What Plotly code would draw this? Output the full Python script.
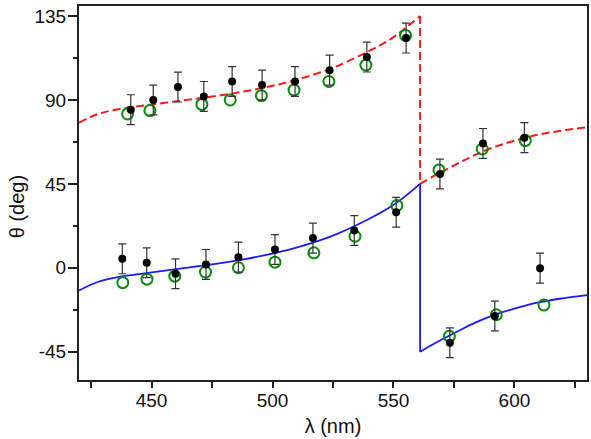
import plotly.graph_objects as go

# ---- data ----
# fitted curve, left branch (lambda < 561 nm)
fit_lam_a = [420, 428, 437, 447, 461, 475, 488, 500, 512, 526, 540, 548, 554, 561]
fit_blue_a = [-12.2, -7.5, -4.8, -3.0, -0.6, 1.8, 4.5, 7.6, 11.6, 17.8, 26.3, 32.0, 37.5, 45.0]
fit_red_a = [77.8, 82.5, 85.2, 87.0, 89.4, 91.8, 94.5, 97.6, 101.6, 107.8, 116.3, 122.0, 127.5, 135.0]
# fitted curve, right branch (lambda > 561 nm)
fit_lam_b = [561, 566, 570, 577, 584, 592, 600, 610, 620, 630]
fit_blue_b = [-45.0, -41.3, -38.5, -33.8, -29.3, -25.1, -21.9, -18.6, -16.4, -14.7]
fit_red_b = [45.0, 48.7, 51.5, 56.2, 60.7, 64.9, 68.1, 71.4, 73.6, 75.3]

# measured (black, with error bars)
blk_up_x = [441.4, 450.7, 460.9, 471.6, 483.3, 495.7, 509.3, 523.6, 539.0, 555.2, 569.2, 587.0, 604.1]
blk_up_y = [84.8, 90.0, 96.9, 91.9, 99.9, 98.0, 99.9, 106.0, 113.0, 123.2, 50.3, 66.7, 69.8]
blk_up_err = [8, 8, 8, 8, 8, 8, 8, 8, 8, 8, 8, 8, 8]
blk_lo_x = [437.9, 448.0, 459.9, 472.5, 485.9, 501.0, 516.7, 533.8, 551.1, 573.3, 591.9, 610.6]
blk_lo_y = [4.8, 2.7, -3.2, 1.8, 5.7, 9.8, 15.9, 20.0, 29.8, -40.2, -25.9, -0.2]
blk_lo_err = [8, 8, 8, 8, 8, 8, 8, 8, 8, 8, 8, 8]

# open green circles
grn_up_x = [440.1, 449.3, 470.8, 482.5, 495.4, 508.9, 523.3, 538.6, 555.0, 568.8, 586.7, 604.5]
grn_up_y = [82.5, 84.3, 87.6, 90.0, 92.3, 95.3, 99.9, 108.7, 124.6, 52.5, 63.7, 68.2]
grn_lo_x = [438.1, 448.1, 459.6, 472.3, 485.9, 501.0, 517.1, 534.1, 551.4, 573.1, 592.5, 612.2]
grn_lo_y = [-8.0, -6.1, -4.5, -2.3, 0.0, 3.0, 8.0, 16.9, 33.4, -36.8, -25.2, -20.0]

y_ticks = [-45, 0, 45, 90, 135]
y_ticktext = ["-45", "0", "45", "90", "135"]
x_ticks = [450, 500, 550, 600]

RED = "#ff1a1a"
BLUE = "#1a1aff"
GREEN = "#0a8a0a"
FONT = "Arial, Liberation Sans, sans-serif"

fig = go.Figure()

red_line = dict(color=RED, width=2, dash="8px,4px")
blue_line = dict(color=BLUE, width=1.8)

# red dashed curve
fig.add_trace(go.Scatter(x=fit_lam_a, y=fit_red_a, mode="lines", line=dict(shape="spline", **red_line)))
fig.add_trace(go.Scatter(x=[fit_lam_a[-1], fit_lam_b[0]], y=[fit_red_a[-1], fit_red_b[0]], mode="lines", line=red_line))
fig.add_trace(go.Scatter(x=fit_lam_b, y=fit_red_b, mode="lines", line=dict(shape="spline", **red_line)))
# blue solid curve
fig.add_trace(go.Scatter(x=fit_lam_a, y=fit_blue_a, mode="lines", line=dict(shape="spline", **blue_line)))
fig.add_trace(go.Scatter(x=[fit_lam_a[-1], fit_lam_b[0]], y=[fit_blue_a[-1], fit_blue_b[0]], mode="lines", line=blue_line))
fig.add_trace(go.Scatter(x=fit_lam_b, y=fit_blue_b, mode="lines", line=dict(shape="spline", **blue_line)))

# green open circles
for gx, gy in ((grn_up_x, grn_up_y), (grn_lo_x, grn_lo_y)):
    fig.add_trace(go.Scatter(
        x=gx, y=gy, mode="markers",
        marker=dict(symbol="circle-open", size=11, color=GREEN, line=dict(width=2, color=GREEN)),
    ))

# black filled points with error bars
for bx, by, be in ((blk_up_x, blk_up_y, blk_up_err), (blk_lo_x, blk_lo_y, blk_lo_err)):
    fig.add_trace(go.Scatter(
        x=bx, y=by, mode="markers",
        marker=dict(symbol="circle", size=8, color="black"),
        error_y=dict(type="data", array=be, visible=True, color="#333333", thickness=1.2, width=4),
    ))

axis_common = dict(
    showline=True, linecolor="#222222", linewidth=2, mirror=True,
    showgrid=False, zeroline=False, ticks="outside", tickcolor="#222222",
    tickwidth=1.5, tickfont=dict(family=FONT, size=19, color="#111111"),
)

fig.update_xaxes(
    range=[420, 630], tickvals=x_ticks, ticklen=6, ticklabelstandoff=-4,
    minor=dict(tickvals=[425, 475, 525, 575, 625], ticks="outside", ticklen=6, tickwidth=1.5, tickcolor="#222222"),
    title=dict(text="λ (nm)", font=dict(family=FONT, size=20, color="#111111"), standoff=9),
    **axis_common,
)
fig.update_yaxes(
    range=[-60.2, 140.4], tickvals=y_ticks, ticktext=y_ticktext, ticklen=9, ticklabelstandoff=-2,
    minor=dict(tickvals=[-22.5, 22.5, 67.5, 112.5], ticks="outside", ticklen=4, tickwidth=1.5, tickcolor="#222222"),
    **axis_common,
)

fig.update_layout(
    width=591, height=439,
    margin=dict(l=79, r=2, t=6, b=59),
    paper_bgcolor="white", plot_bgcolor="white",
    showlegend=False,
    annotations=[dict(
        text="θ (deg)", textangle=-90, showarrow=False,
        xref="paper", yref="paper", x=(17 - 79) / 510, y=(380 - 207) / 374,
        xanchor="center", yanchor="middle",
        font=dict(family=FONT, size=20, color="#111111"),
    )],
)

fig.write_html("out.html")
